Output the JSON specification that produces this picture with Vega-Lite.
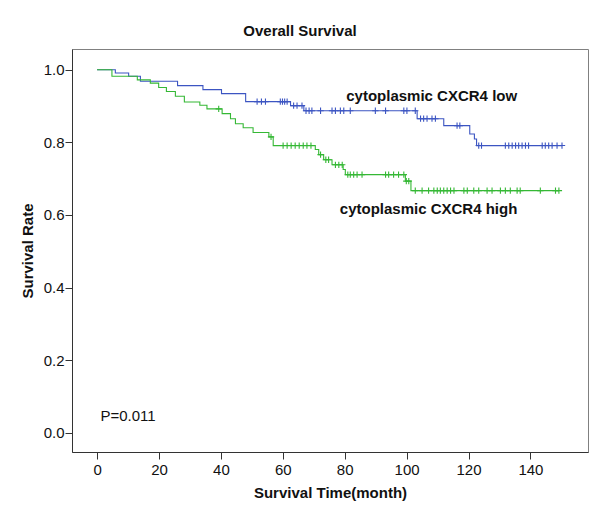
{
  "$schema": "https://vega.github.io/schema/vega-lite/v6.json",
  "autosize": "none",
  "width": 516,
  "height": 403,
  "padding": {"left": 72, "top": 49, "right": 12, "bottom": 68},
  "background": "white",
  "config": {
    "font": "Liberation Sans",
    "view": {"stroke": "#808080", "strokeWidth": 1},
    "axis": {
      "grid": false,
      "domainColor": "#333333",
      "tickColor": "#333333",
      "tickSize": 7,
      "labelFont": "Liberation Sans",
      "labelFontSize": 15,
      "labelColor": "#111111",
      "titleFont": "Liberation Sans",
      "titleFontSize": 15,
      "titleFontWeight": "bold",
      "titleColor": "#111111"
    }
  },
  "title": {
    "text": "Overall Survival",
    "font": "Liberation Sans",
    "fontSize": 15,
    "fontWeight": "bold",
    "color": "#111111",
    "anchor": "middle",
    "dx": -30,
    "offset": 10
  },
  "datasets": {
    "km": [
      {"group": "low", "time": 0, "surv": 1.0, "censor": false},
      {"group": "low", "time": 5.9, "surv": 0.991, "censor": false},
      {"group": "low", "time": 10.2, "surv": 0.982, "censor": false},
      {"group": "low", "time": 14.0, "surv": 0.968, "censor": false},
      {"group": "low", "time": 26.0, "surv": 0.956, "censor": false},
      {"group": "low", "time": 34.2, "surv": 0.945, "censor": false},
      {"group": "low", "time": 40.2, "surv": 0.934, "censor": false},
      {"group": "low", "time": 48.0, "surv": 0.912, "censor": false},
      {"group": "low", "time": 51.7, "surv": 0.912, "censor": true},
      {"group": "low", "time": 53.1, "surv": 0.912, "censor": true},
      {"group": "low", "time": 54.4, "surv": 0.912, "censor": true},
      {"group": "low", "time": 59.2, "surv": 0.912, "censor": true},
      {"group": "low", "time": 59.9, "surv": 0.912, "censor": true},
      {"group": "low", "time": 60.6, "surv": 0.912, "censor": true},
      {"group": "low", "time": 61.4, "surv": 0.912, "censor": true},
      {"group": "low", "time": 62.5, "surv": 0.901, "censor": false},
      {"group": "low", "time": 63.5, "surv": 0.901, "censor": true},
      {"group": "low", "time": 64.6, "surv": 0.901, "censor": true},
      {"group": "low", "time": 66.2, "surv": 0.901, "censor": true},
      {"group": "low", "time": 66.8, "surv": 0.887, "censor": false},
      {"group": "low", "time": 67.5, "surv": 0.887, "censor": true},
      {"group": "low", "time": 68.5, "surv": 0.887, "censor": true},
      {"group": "low", "time": 69.4, "surv": 0.887, "censor": true},
      {"group": "low", "time": 72.2, "surv": 0.887, "censor": true},
      {"group": "low", "time": 75.9, "surv": 0.887, "censor": true},
      {"group": "low", "time": 77.0, "surv": 0.887, "censor": true},
      {"group": "low", "time": 78.6, "surv": 0.887, "censor": true},
      {"group": "low", "time": 79.7, "surv": 0.887, "censor": true},
      {"group": "low", "time": 81.8, "surv": 0.887, "censor": true},
      {"group": "low", "time": 89.9, "surv": 0.887, "censor": true},
      {"group": "low", "time": 93.2, "surv": 0.887, "censor": true},
      {"group": "low", "time": 99.1, "surv": 0.887, "censor": true},
      {"group": "low", "time": 100.1, "surv": 0.887, "censor": true},
      {"group": "low", "time": 102.8, "surv": 0.887, "censor": true},
      {"group": "low", "time": 103.4, "surv": 0.865, "censor": false},
      {"group": "low", "time": 104.5, "surv": 0.865, "censor": true},
      {"group": "low", "time": 105.5, "surv": 0.865, "censor": true},
      {"group": "low", "time": 106.6, "surv": 0.865, "censor": true},
      {"group": "low", "time": 108.2, "surv": 0.865, "censor": true},
      {"group": "low", "time": 109.3, "surv": 0.865, "censor": true},
      {"group": "low", "time": 112.0, "surv": 0.846, "censor": false},
      {"group": "low", "time": 116.3, "surv": 0.846, "censor": true},
      {"group": "low", "time": 117.2, "surv": 0.846, "censor": true},
      {"group": "low", "time": 120.4, "surv": 0.823, "censor": false},
      {"group": "low", "time": 121.9, "surv": 0.809, "censor": false},
      {"group": "low", "time": 122.6, "surv": 0.791, "censor": false},
      {"group": "low", "time": 123.3, "surv": 0.791, "censor": true},
      {"group": "low", "time": 124.2, "surv": 0.791, "censor": true},
      {"group": "low", "time": 131.9, "surv": 0.791, "censor": true},
      {"group": "low", "time": 133.0, "surv": 0.791, "censor": true},
      {"group": "low", "time": 134.1, "surv": 0.791, "censor": true},
      {"group": "low", "time": 135.2, "surv": 0.791, "censor": true},
      {"group": "low", "time": 136.2, "surv": 0.791, "censor": true},
      {"group": "low", "time": 137.3, "surv": 0.791, "censor": true},
      {"group": "low", "time": 138.4, "surv": 0.791, "censor": true},
      {"group": "low", "time": 139.4, "surv": 0.791, "censor": true},
      {"group": "low", "time": 143.8, "surv": 0.791, "censor": true},
      {"group": "low", "time": 144.8, "surv": 0.791, "censor": true},
      {"group": "low", "time": 145.9, "surv": 0.791, "censor": true},
      {"group": "low", "time": 147.0, "surv": 0.791, "censor": true},
      {"group": "low", "time": 148.6, "surv": 0.791, "censor": true},
      {"group": "low", "time": 150.2, "surv": 0.791, "censor": true},
      {"group": "high", "time": 0, "surv": 1.0, "censor": false},
      {"group": "high", "time": 4.8, "surv": 0.982, "censor": false},
      {"group": "high", "time": 13.0, "surv": 0.972, "censor": false},
      {"group": "high", "time": 17.2, "surv": 0.963, "censor": false},
      {"group": "high", "time": 19.9, "surv": 0.951, "censor": false},
      {"group": "high", "time": 22.4, "surv": 0.94, "censor": false},
      {"group": "high", "time": 25.3, "surv": 0.927, "censor": false},
      {"group": "high", "time": 28.2, "surv": 0.911, "censor": false},
      {"group": "high", "time": 33.2, "surv": 0.902, "censor": false},
      {"group": "high", "time": 35.5, "surv": 0.892, "censor": false},
      {"group": "high", "time": 39.3, "surv": 0.892, "censor": true},
      {"group": "high", "time": 40.4, "surv": 0.879, "censor": false},
      {"group": "high", "time": 43.1, "surv": 0.865, "censor": false},
      {"group": "high", "time": 44.7, "surv": 0.851, "censor": false},
      {"group": "high", "time": 47.2, "surv": 0.84, "censor": false},
      {"group": "high", "time": 50.4, "surv": 0.827, "censor": false},
      {"group": "high", "time": 55.5, "surv": 0.815, "censor": false},
      {"group": "high", "time": 56.2, "surv": 0.815, "censor": true},
      {"group": "high", "time": 56.9, "surv": 0.791, "censor": false},
      {"group": "high", "time": 60.1, "surv": 0.791, "censor": true},
      {"group": "high", "time": 61.4, "surv": 0.791, "censor": true},
      {"group": "high", "time": 62.7, "surv": 0.791, "censor": true},
      {"group": "high", "time": 64.0, "surv": 0.791, "censor": true},
      {"group": "high", "time": 65.3, "surv": 0.791, "censor": true},
      {"group": "high", "time": 66.6, "surv": 0.791, "censor": true},
      {"group": "high", "time": 67.8, "surv": 0.791, "censor": true},
      {"group": "high", "time": 69.1, "surv": 0.791, "censor": true},
      {"group": "high", "time": 70.5, "surv": 0.78, "censor": false},
      {"group": "high", "time": 71.6, "surv": 0.766, "censor": false},
      {"group": "high", "time": 72.2, "surv": 0.766, "censor": true},
      {"group": "high", "time": 73.2, "surv": 0.752, "censor": false},
      {"group": "high", "time": 73.9, "surv": 0.752, "censor": true},
      {"group": "high", "time": 74.8, "surv": 0.752, "censor": true},
      {"group": "high", "time": 75.9, "surv": 0.738, "censor": false},
      {"group": "high", "time": 77.0, "surv": 0.738, "censor": true},
      {"group": "high", "time": 78.1, "surv": 0.738, "censor": true},
      {"group": "high", "time": 79.2, "surv": 0.738, "censor": true},
      {"group": "high", "time": 79.5, "surv": 0.725, "censor": false},
      {"group": "high", "time": 80.2, "surv": 0.711, "censor": false},
      {"group": "high", "time": 81.0, "surv": 0.711, "censor": true},
      {"group": "high", "time": 81.8, "surv": 0.711, "censor": true},
      {"group": "high", "time": 82.9, "surv": 0.711, "censor": true},
      {"group": "high", "time": 84.0, "surv": 0.711, "censor": true},
      {"group": "high", "time": 85.6, "surv": 0.711, "censor": true},
      {"group": "high", "time": 93.2, "surv": 0.711, "censor": true},
      {"group": "high", "time": 94.2, "surv": 0.711, "censor": true},
      {"group": "high", "time": 95.8, "surv": 0.711, "censor": true},
      {"group": "high", "time": 97.4, "surv": 0.711, "censor": true},
      {"group": "high", "time": 99.1, "surv": 0.711, "censor": true},
      {"group": "high", "time": 99.6, "surv": 0.693, "censor": false},
      {"group": "high", "time": 99.9, "surv": 0.693, "censor": true},
      {"group": "high", "time": 100.7, "surv": 0.693, "censor": true},
      {"group": "high", "time": 101.4, "surv": 0.667, "censor": false},
      {"group": "high", "time": 102.8, "surv": 0.667, "censor": true},
      {"group": "high", "time": 105.0, "surv": 0.667, "censor": true},
      {"group": "high", "time": 107.1, "surv": 0.667, "censor": true},
      {"group": "high", "time": 108.8, "surv": 0.667, "censor": true},
      {"group": "high", "time": 109.9, "surv": 0.667, "censor": true},
      {"group": "high", "time": 110.9, "surv": 0.667, "censor": true},
      {"group": "high", "time": 112.0, "surv": 0.667, "censor": true},
      {"group": "high", "time": 113.1, "surv": 0.667, "censor": true},
      {"group": "high", "time": 114.2, "surv": 0.667, "censor": true},
      {"group": "high", "time": 115.3, "surv": 0.667, "censor": true},
      {"group": "high", "time": 118.5, "surv": 0.667, "censor": true},
      {"group": "high", "time": 119.6, "surv": 0.667, "censor": true},
      {"group": "high", "time": 121.7, "surv": 0.667, "censor": true},
      {"group": "high", "time": 123.3, "surv": 0.667, "censor": true},
      {"group": "high", "time": 126.0, "surv": 0.667, "censor": true},
      {"group": "high", "time": 127.6, "surv": 0.667, "censor": true},
      {"group": "high", "time": 130.3, "surv": 0.667, "censor": true},
      {"group": "high", "time": 131.9, "surv": 0.667, "censor": true},
      {"group": "high", "time": 133.5, "surv": 0.667, "censor": true},
      {"group": "high", "time": 135.7, "surv": 0.667, "censor": true},
      {"group": "high", "time": 136.7, "surv": 0.667, "censor": true},
      {"group": "high", "time": 143.2, "surv": 0.667, "censor": true},
      {"group": "high", "time": 148.1, "surv": 0.667, "censor": true},
      {"group": "high", "time": 149.2, "surv": 0.667, "censor": true}
    ],
    "labels": [
      {"text": "cytoplasmic CXCR4 low", "x": 108.1, "y": 0.928, "kind": "bold"},
      {"text": "cytoplasmic CXCR4 high", "x": 107.1, "y": 0.615, "kind": "bold"}
    ],
    "pval": [
      {"text": "P=0.011", "x": 1.1, "y": 0.045}
    ]
  },
  "layer": [
    {
      "data": {"name": "km"},
      "mark": {"type": "line", "interpolate": "step-after", "strokeWidth": 1.1},
      "encoding": {
        "x": {
          "field": "time", "type": "quantitative",
          "scale": {"domain": [-8.1, 158.6], "nice": false, "zero": false},
          "axis": {"values": [0, 20, 40, 60, 80, 100, 120, 140], "title": "Survival Time(month)", "labelPadding": 3, "titlePadding": 8}
        },
        "y": {
          "field": "surv", "type": "quantitative",
          "scale": {"domain": [-0.053, 1.057], "nice": false, "zero": false},
          "axis": {"values": [0, 0.2, 0.4, 0.6, 0.8, 1.0], "format": ".1f", "title": "Survival Rate", "labelPadding": 1, "titlePadding": 8}
        },
        "color": {
          "field": "group", "type": "nominal",
          "scale": {"domain": ["low", "high"], "range": ["#3c55c2", "#35b835"]},
          "legend": null
        },
        "order": {"field": "time", "type": "quantitative"}
      }
    },
    {
      "data": {"name": "km"},
      "transform": [{"filter": "datum.censor"}],
      "mark": {"type": "point", "shape": "M-1,0L1,0M0,-1L0,1", "filled": false, "size": 40, "strokeWidth": 1.1, "opacity": 1},
      "encoding": {
        "x": {"field": "time", "type": "quantitative"},
        "y": {"field": "surv", "type": "quantitative"},
        "color": {"field": "group", "type": "nominal", "legend": null}
      }
    },
    {
      "data": {"name": "labels"},
      "mark": {"type": "text", "fontSize": 15, "fontWeight": "bold", "font": "Liberation Sans", "color": "#111111", "align": "center", "baseline": "middle"},
      "encoding": {
        "x": {"field": "x", "type": "quantitative"},
        "y": {"field": "y", "type": "quantitative"},
        "text": {"field": "text"}
      }
    },
    {
      "data": {"name": "pval"},
      "mark": {"type": "text", "fontSize": 15, "font": "Liberation Sans", "color": "#111111", "align": "left", "baseline": "middle"},
      "encoding": {
        "x": {"field": "x", "type": "quantitative"},
        "y": {"field": "y", "type": "quantitative"},
        "text": {"field": "text"}
      }
    }
  ]
}
